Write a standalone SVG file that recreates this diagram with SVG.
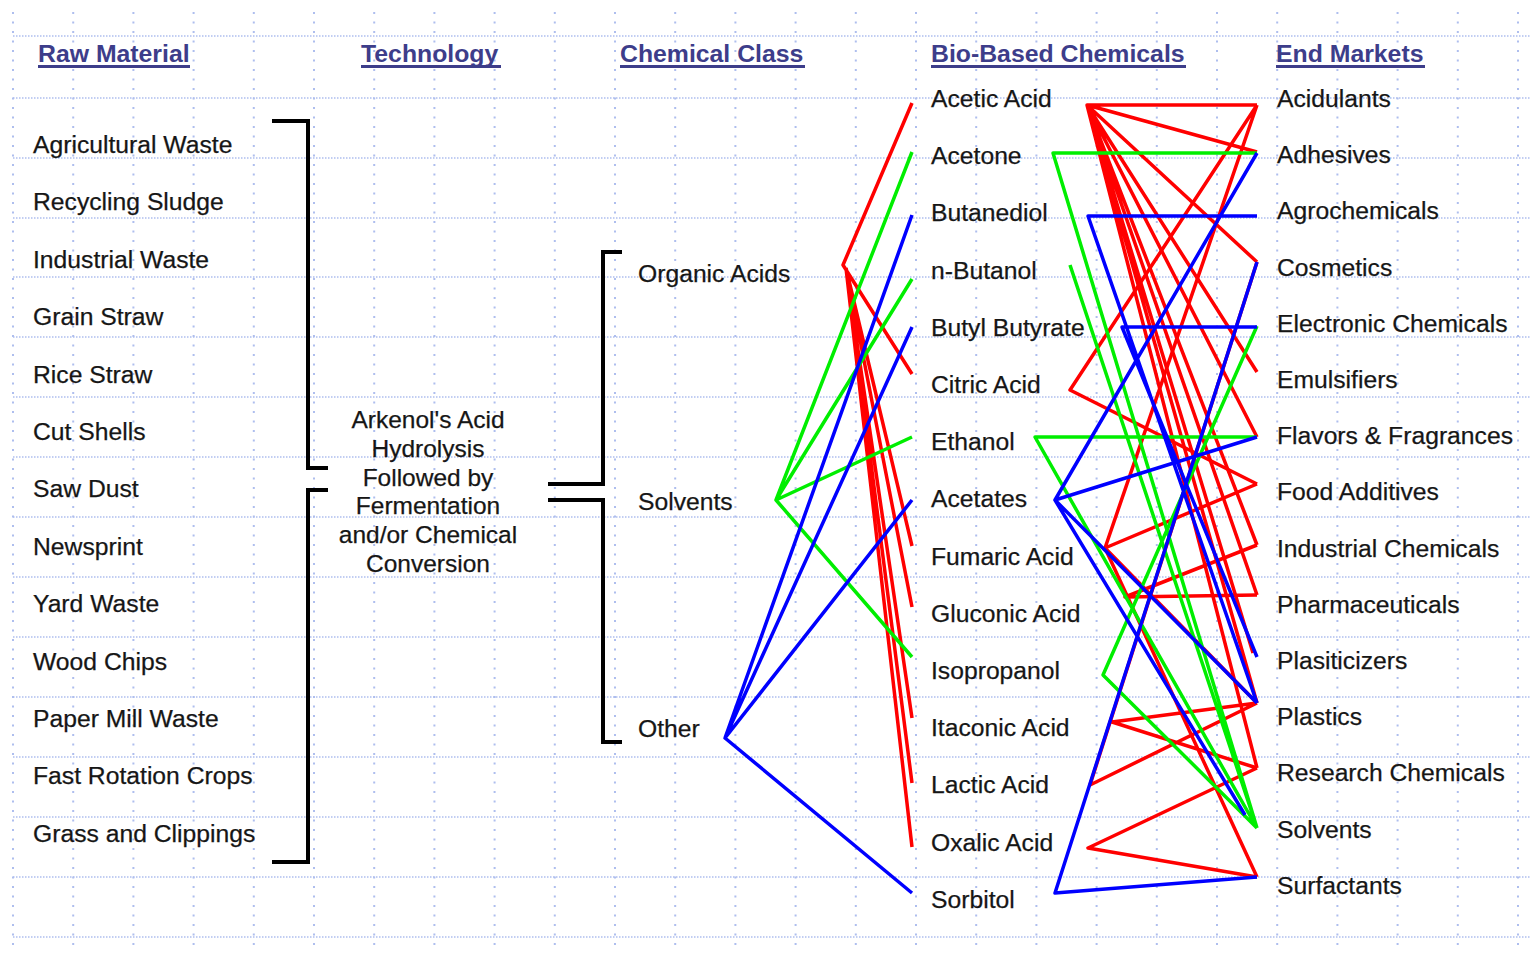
<svg xmlns="http://www.w3.org/2000/svg" width="1530" height="958" viewBox="0 0 1530 958">
<style>
.gh{stroke:#aebeee;stroke-width:1.5;stroke-dasharray:1.5 1.5;fill:none}
.gv{stroke:#aebeee;stroke-width:2;stroke-dasharray:2 7.5;fill:none}
.hd{font-family:"Liberation Sans",Arial,sans-serif;font-size:24.8px;font-weight:bold;fill:#3d3d8a}
.ul{stroke:#3d3d8a;stroke-width:3}
.t{font-family:"Liberation Sans",Arial,sans-serif;font-size:24.7px;fill:#161616;stroke:#161616;stroke-width:0.25}
.tc{font-family:"Liberation Sans",Arial,sans-serif;font-size:24.5px;fill:#161616;stroke:#161616;stroke-width:0.25;text-anchor:middle}
.br{stroke:#000;stroke-width:4;fill:none}
.r{stroke:#ff0000;stroke-width:3.5;fill:none;stroke-linejoin:round}
.g{stroke:#00ee00;stroke-width:3.5;fill:none;stroke-linejoin:round}
.b{stroke:#0000ff;stroke-width:3.5;fill:none;stroke-linejoin:round}
</style>
<rect width="1530" height="958" fill="#ffffff"/>
<g id="grid">
<path class="gh" d="M13 36H1530M13 98H1530M13 158H1530M13 218H1530M13 277H1530M13 337H1530M13 397H1530M13 457H1530M13 517H1530M13 577H1530M13 637H1530M13 697H1530M13 757H1530M13 817H1530M13 877H1530M13 937H1530"/>
<path class="gv" d="M13 12V950M73.2 12V950M133.4 12V950M193.6 12V950M253.8 12V950M314 12V950M374.2 12V950M434.4 12V950M494.6 12V950M554.8 12V950M615 12V950M675.2 12V950M735.4 12V950M795.6 12V950M855.8 12V950M916 12V950M976.2 12V950M1036.4 12V950M1096.6 12V950M1156.8 12V950M1217 12V950M1277.2 12V950M1337.4 12V950M1397.6 12V950M1457.8 12V950M1518 12V950"/>
</g>
<g id="headers">
<text class="hd" x="38" y="62">Raw Material</text><line class="ul" x1="38" y1="66.5" x2="190" y2="66.5"/>
<text class="hd" x="361" y="62">Technology</text><line class="ul" x1="361" y1="66.5" x2="501" y2="66.5"/>
<text class="hd" x="620" y="62">Chemical Class</text><line class="ul" x1="620" y1="66.5" x2="805" y2="66.5"/>
<text class="hd" x="931" y="62">Bio-Based Chemicals</text><line class="ul" x1="931" y1="66.5" x2="1186" y2="66.5"/>
<text class="hd" x="1276" y="62">End Markets</text><line class="ul" x1="1276" y1="66.5" x2="1425" y2="66.5"/>
</g>
<g id="raw-materials">
<g id="rm-agricultural-waste"><text class="t" x="33" y="153">Agricultural Waste</text></g>
<g id="rm-recycling-sludge"><text class="t" x="33" y="210.4">Recycling Sludge</text></g>
<g id="rm-industrial-waste"><text class="t" x="33" y="267.8">Industrial Waste</text></g>
<g id="rm-grain-straw"><text class="t" x="33" y="325.2">Grain Straw</text></g>
<g id="rm-rice-straw"><text class="t" x="33" y="382.6">Rice Straw</text></g>
<g id="rm-cut-shells"><text class="t" x="33" y="440">Cut Shells</text></g>
<g id="rm-saw-dust"><text class="t" x="33" y="497.4">Saw Dust</text></g>
<g id="rm-newsprint"><text class="t" x="33" y="554.8">Newsprint</text></g>
<g id="rm-yard-waste"><text class="t" x="33" y="612.2">Yard Waste</text></g>
<g id="rm-wood-chips"><text class="t" x="33" y="669.6">Wood Chips</text></g>
<g id="rm-paper-mill-waste"><text class="t" x="33" y="727">Paper Mill Waste</text></g>
<g id="rm-fast-rotation-crops"><text class="t" x="33" y="784.4">Fast Rotation Crops</text></g>
<g id="rm-grass-clippings"><text class="t" x="33" y="841.8">Grass and Clippings</text></g>
</g>
<g id="technology">
<text class="tc" x="428" y="428">Arkenol's Acid</text>
<text class="tc" x="428" y="457">Hydrolysis</text>
<text class="tc" x="428" y="485.5">Followed by</text>
<text class="tc" x="428" y="514">Fermentation</text>
<text class="tc" x="428" y="543">and/or Chemical</text>
<text class="tc" x="428" y="571.5">Conversion</text>
</g>
<g id="brackets">
<path class="br" d="M272 121H308V468H328"/>
<path class="br" d="M328 490H308V862H272"/>
<path class="br" d="M548 484H603V252H622"/>
<path class="br" d="M548 500H603V742H622"/>
</g>
<g id="chemical-classes">
<g id="cc-organic-acids"><text class="t" x="638" y="282">Organic Acids</text></g>
<g id="cc-solvents"><text class="t" x="638" y="510">Solvents</text></g>
<g id="cc-other"><text class="t" x="638" y="737">Other</text></g>
</g>
<g id="connectors">
<path class="r" d="M912 103L843 265L912 374M846 268L912 546M846 268L912 607M846 268L912 718M846 268L912 783M846 268L912 847"/>
<path class="g" d="M912 152L776 500L912 279M776 500L912 437M776 500L912 657"/>
<path class="b" d="M912 215L725 738L912 327M725 738L912 500M725 738L912 893"/>
<path class="r" d="M1257 105H1087L1257 152M1087 105L1257 262M1087 105L1257 372M1087 105L1257 437M1087 105L1257 545M1087 105L1257 595M1087 105L1253 653M1087 105L1257 703M1087 105L1257 768"/>
<path class="r" d="M1257 105L1070 390L1257 484M1257 105L1105 548L1257 484M1105 548L1257 877M1105 548L1257 703M1257 545L1125 597L1257 595M1257 703L1112 722L1257 768M1257 703L1090 785L1257 262M1257 768L1088 848L1257 877"/>
<path class="g" d="M1257 153H1053L1257 828M1070 265L1257 828M1257 437H1035L1257 828M1257 326L1103 675L1257 828"/>
<path class="b" d="M1257 216H1088L1257 703M1257 327H1122L1257 657M1257 153L1055 500L1257 437M1055 500L1257 703M1055 500L1245 815M1257 262L1055 893L1257 877"/>
</g>
<g id="bio-based-chemicals">
<g id="bc-acetic-acid"><text class="t" x="931" y="107">Acetic Acid</text></g>
<g id="bc-acetone"><text class="t" x="931" y="164.2">Acetone</text></g>
<g id="bc-butanediol"><text class="t" x="931" y="221.4">Butanediol</text></g>
<g id="bc-n-butanol"><text class="t" x="931" y="278.6">n-Butanol</text></g>
<g id="bc-butyl-butyrate"><text class="t" x="931" y="335.8">Butyl Butyrate</text></g>
<g id="bc-citric-acid"><text class="t" x="931" y="393">Citric Acid</text></g>
<g id="bc-ethanol"><text class="t" x="931" y="450.2">Ethanol</text></g>
<g id="bc-acetates"><text class="t" x="931" y="507.4">Acetates</text></g>
<g id="bc-fumaric-acid"><text class="t" x="931" y="564.6">Fumaric Acid</text></g>
<g id="bc-gluconic-acid"><text class="t" x="931" y="621.8">Gluconic Acid</text></g>
<g id="bc-isopropanol"><text class="t" x="931" y="679">Isopropanol</text></g>
<g id="bc-itaconic-acid"><text class="t" x="931" y="736.2">Itaconic Acid</text></g>
<g id="bc-lactic-acid"><text class="t" x="931" y="793.4">Lactic Acid</text></g>
<g id="bc-oxalic-acid"><text class="t" x="931" y="850.6">Oxalic Acid</text></g>
<g id="bc-sorbitol"><text class="t" x="931" y="907.8">Sorbitol</text></g>
</g>
<g id="end-markets">
<g id="em-acidulants"><text class="t" x="1277" y="107">Acidulants</text></g>
<g id="em-adhesives"><text class="t" x="1277" y="163.2">Adhesives</text></g>
<g id="em-agrochemicals"><text class="t" x="1277" y="219.4">Agrochemicals</text></g>
<g id="em-cosmetics"><text class="t" x="1277" y="275.6">Cosmetics</text></g>
<g id="em-electronic-chemicals"><text class="t" x="1277" y="331.8">Electronic Chemicals</text></g>
<g id="em-emulsifiers"><text class="t" x="1277" y="388">Emulsifiers</text></g>
<g id="em-flavors-fragrances"><text class="t" x="1277" y="444.2">Flavors &amp; Fragrances</text></g>
<g id="em-food-additives"><text class="t" x="1277" y="500.4">Food Additives</text></g>
<g id="em-industrial-chemicals"><text class="t" x="1277" y="556.6">Industrial Chemicals</text></g>
<g id="em-pharmaceuticals"><text class="t" x="1277" y="612.8">Pharmaceuticals</text></g>
<g id="em-plasiticizers"><text class="t" x="1277" y="669">Plasiticizers</text></g>
<g id="em-plastics"><text class="t" x="1277" y="725.2">Plastics</text></g>
<g id="em-research-chemicals"><text class="t" x="1277" y="781.4">Research Chemicals</text></g>
<g id="em-solvents"><text class="t" x="1277" y="837.6">Solvents</text></g>
<g id="em-surfactants"><text class="t" x="1277" y="893.8">Surfactants</text></g>
</g>
</svg>
